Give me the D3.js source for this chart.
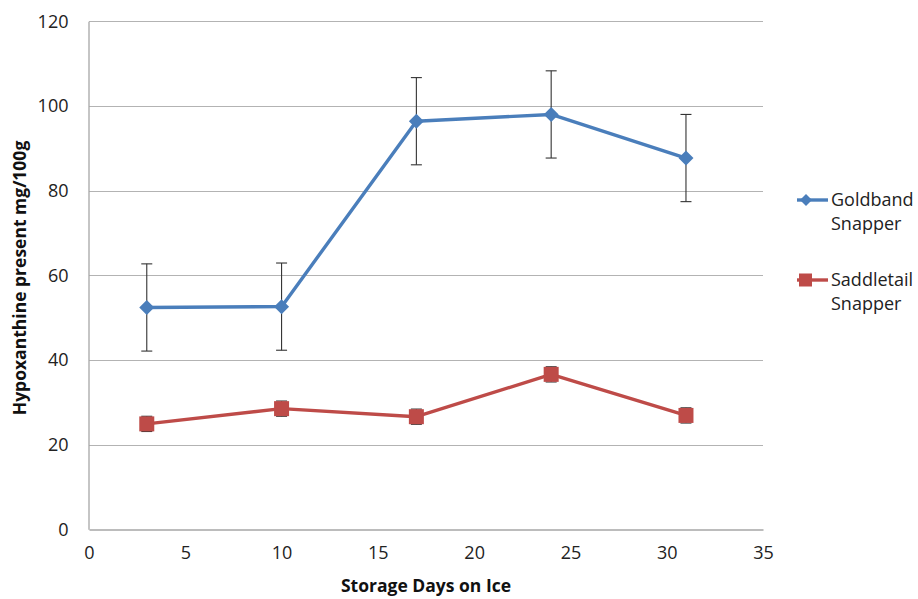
<!DOCTYPE html>
<html>
<head>
<meta charset="utf-8">
<script src="https://cdn.jsdelivr.net/npm/d3@7"></script>
<style>
  html, body { margin: 0; padding: 0; background: #fff; }
  svg { display: block; font-family: "Open Sans", sans-serif; }
</style>
</head>
<body>
<svg id="chart" width="918" height="599"></svg>
<script>
// Storage days and hypoxanthine measurements (mg/100g)
const days = [3, 10, 17, 24, 31];
const goldband = [52.4, 52.6, 96.4, 98.0, 87.7];
const goldbandErr = [10.3, 10.3, 10.3, 10.3, 10.3];
const saddletail = [24.9, 28.5, 26.6, 36.6, 26.9];
const saddletailErr = [1.8, 1.8, 1.8, 1.8, 1.8];
const xTicks = [0, 5, 10, 15, 20, 25, 30, 35];
const yTicks = [0, 20, 40, 60, 80, 100, 120];

const series = [
  { name: ["Goldband", "Snapper"], values: goldband, err: goldbandErr, color: "#4a7ebb", shape: "diamond" },
  { name: ["Saddletail", "Snapper"], values: saddletail, err: saddletailErr, color: "#be4b48", shape: "square" }
];

const svg = d3.select("#chart");
const x = d3.scaleLinear().domain([0, 35]).range([89, 763]);
const y = d3.scaleLinear().domain([0, 120]).range([529.3, 21.3]);

// Horizontal gridlines
svg.append("g").selectAll("line").data(yTicks.filter(d => d > 0)).join("line")
  .attr("x1", x(0)).attr("x2", x(35))
  .attr("y1", d => Math.round(y(d)) + 0.5).attr("y2", d => Math.round(y(d)) + 0.5)
  .attr("stroke", "#b3b3b3").attr("stroke-width", 1);

// Axes
const yAxis = svg.append("g").attr("transform", `translate(${x(0) - 0.5},0)`)
  .call(d3.axisLeft(y).tickValues(yTicks).tickSize(0).tickPadding(20));
const xAxis = svg.append("g").attr("transform", `translate(0,${Math.round(y(0)) + 0.5})`)
  .call(d3.axisBottom(x).tickValues(xTicks).tickSize(0).tickPadding(17));
[yAxis, xAxis].forEach(g => {
  g.select(".domain").attr("stroke", "#a6a6a6").attr("stroke-width", 1.3);
  g.selectAll("text").attr("font-size", 18).attr("fill", "#222")
    .attr("font-family", "'Open Sans', sans-serif");
});

// Axis titles
svg.append("text").attr("x", 426).attr("y", 592)
  .attr("text-anchor", "middle").attr("font-size", 17.5).attr("font-weight", "bold")
  .attr("fill", "#111").text("Storage Days on Ice");
svg.append("text").attr("transform", `translate(26,278) rotate(-90)`)
  .attr("text-anchor", "middle").attr("font-size", 17.5).attr("font-weight", "bold")
  .attr("fill", "#111").text("Hypoxanthine present mg/100g");

const line = d3.line().x((d, i) => x(days[i])).y(d => y(d));
const diamond = s => `M0,${-s}L${s},0L0,${s}L${-s},0Z`;

series.forEach(s => {
  const g = svg.append("g");
  g.append("path").attr("d", line(s.values)).attr("fill", "none")
    .attr("stroke", s.color).attr("stroke-width", 3.4).attr("stroke-linejoin", "round");
  // Error bars
  s.values.forEach((v, i) => {
    const cx = x(days[i]);
    const eb = g.append("g").attr("stroke", "#333").attr("stroke-width", 1.1);
    eb.append("line").attr("x1", cx).attr("x2", cx).attr("y1", y(v + s.err[i])).attr("y2", y(v - s.err[i]));
    [v + s.err[i], v - s.err[i]].forEach(e =>
      eb.append("line").attr("x1", cx - 5.5).attr("x2", cx + 5.5).attr("y1", y(e)).attr("y2", y(e)));
  });
  // Markers
  s.values.forEach((v, i) => {
    const cx = x(days[i]), cy = y(v);
    if (s.shape === "diamond") {
      g.append("path").attr("d", diamond(7.5)).attr("transform", `translate(${cx},${cy})`)
        .attr("fill", s.color);
    } else {
      g.append("rect").attr("x", cx - 7.5).attr("y", cy - 7.5).attr("width", 15).attr("height", 15)
        .attr("fill", s.color);
    }
  });
});

// Legend
series.forEach((s, i) => {
  const ly = 200 + i * 80;
  const g = svg.append("g");
  g.append("line").attr("x1", 797).attr("x2", 828).attr("y1", ly).attr("y2", ly)
    .attr("stroke", s.color).attr("stroke-width", 3.4);
  if (s.shape === "diamond") {
    g.append("path").attr("d", diamond(6)).attr("transform", `translate(806,${ly})`).attr("fill", s.color);
  } else {
    g.append("rect").attr("x", 799).attr("y", ly - 6.5).attr("width", 13).attr("height", 13).attr("fill", s.color);
  }
  s.name.forEach((t, j) => {
    g.append("text").attr("x", 831).attr("y", ly + 6 + j * 24)
      .attr("font-size", 18).attr("fill", "#222").text(t);
  });
});
</script>
</body>
</html>
